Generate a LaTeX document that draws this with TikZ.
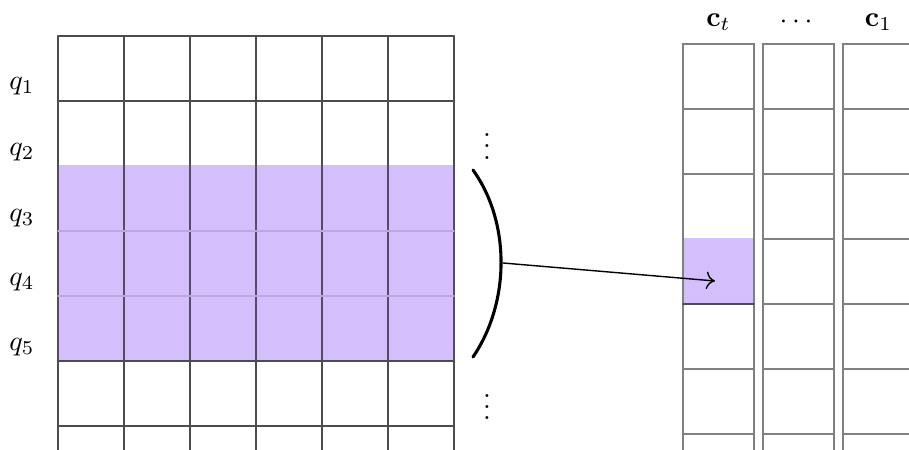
\documentclass[tikz,border=0pt]{standalone}
\usepackage{amsmath,amssymb}
\usepackage{tikz}
\usetikzlibrary{arrows.meta}
\usepackage{xcolor}
\definecolor{lav}{RGB}{212,191,252}

\begin{document}
\begin{tikzpicture}[>={To[length=1.1mm,width=2.2mm]},line cap=round,
  gridline/.style={black!70,line width=0.6pt},
  colline/.style={black!50,line width=0.7pt},
  bracket/.style={black,line width=1.1pt}]
\useasboundingbox (0,0) rectangle (11.3625,5.625);
\clip (0,0) rectangle (11.3625,5.625);
% query matrix
\foreach \i in {0,...,6}
  \draw[gridline] ({0.725+0.825*\i},5.175) -- ({0.725+0.825*\i},-0.2);
\foreach \j in {0,...,6}
  \draw[gridline] (0.725,{5.175-0.8125*\j}) -- (5.675,{5.175-0.8125*\j});
\fill[lav] (0.725,1.1125) rectangle (5.675,3.56);
\foreach \i in {0,...,6}
  \draw[line width=0.6pt,black!60!lav] ({0.725+0.825*\i},1.1125) -- ({0.725+0.825*\i},3.56);
\draw[line width=0.5pt,lav!88!black] (0.725,2.7375) -- (5.675,2.7375);
\draw[line width=0.5pt,lav!88!black] (0.725,1.925) -- (5.675,1.925);
\draw[gridline] (0.725,1.1125) -- (5.675,1.1125);
\foreach \n/\y in {1/4.55,2/3.725,3/2.9,4/2.1,5/1.2875}
  \node (q\n) at (0.275,\y) {$q_\n$};
\node[inner sep=0pt] (vdtop) at (6.0875,3.9) {$\vdots$};
\node[inner sep=0pt] (vdbot) at (6.0875,0.64) {$\vdots$};
% bracket and arrow
\coordinate (brtop) at (5.9125,3.5);
\coordinate (brbot) at (5.9125,1.1625);
\coordinate (brmid) at (6.2875,2.3375);
\draw[bracket] (brtop) .. controls (6.38,2.85) and (6.38,1.85) .. (brbot);
% cache columns
\fill[lav] (8.5375,1.825) rectangle (9.425,2.645);
\foreach \k in {0,1,2}
  \draw[colline] ({8.5375+\k},-0.2) -- ({8.5375+\k},5.075) -- ({9.425+\k},5.075) -- ({9.425+\k},-0.2);
\foreach \j in {1,2,4,5,6}
  \draw[colline] (8.5375,{5.075-0.8125*\j}) -- (9.425,{5.075-0.8125*\j});
\foreach \k in {1,2}
  \foreach \j in {1,...,6}
    \draw[colline] ({8.5375+\k},{5.075-0.8125*\j}) -- ({9.425+\k},{5.075-0.8125*\j});
\draw[gridline] (8.5375,1.825) -- (9.425,1.825);
\node (ct) at (8.98,5.35) {$\mathbf{c}_t$};
\node (cdots) at (9.98,5.35) {$\cdots$};
\node (c1) at (10.98,5.35) {$\mathbf{c}_1$};
\coordinate (tip) at (8.9375,2.1125);
\draw[->,line width=0.5pt] (brmid) -- (tip);
\end{tikzpicture}
\end{document}
